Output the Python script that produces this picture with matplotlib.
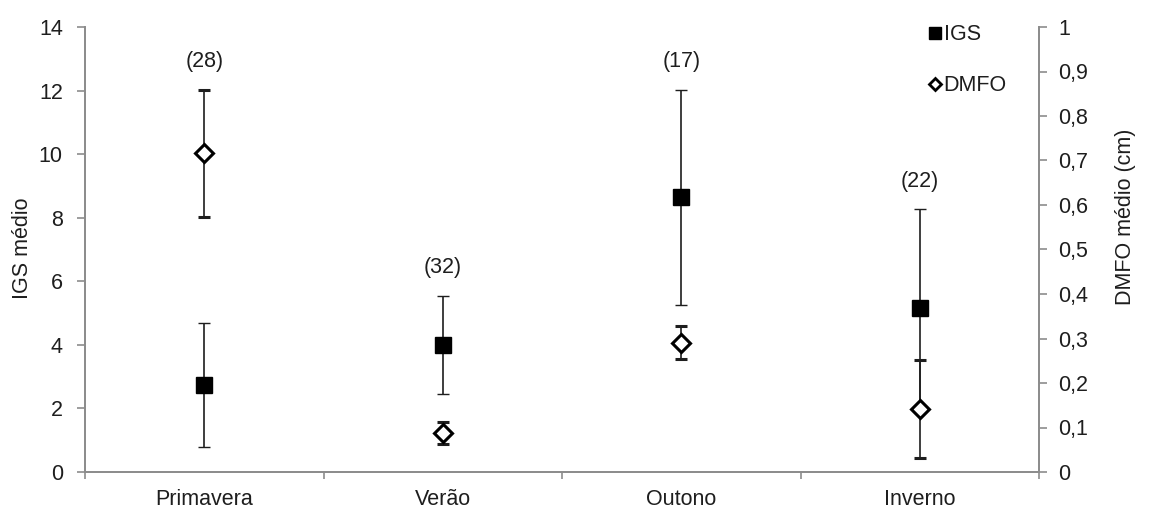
import matplotlib
matplotlib.use("Agg")
import matplotlib.pyplot as plt
from matplotlib.lines import Line2D
from matplotlib.ticker import FuncFormatter, MultipleLocator
import numpy as np

plt.rcParams["font.family"] = ["Liberation Sans", "DejaVu Sans"]

# dados
estacoes = ["Primavera", "Verão", "Outono", "Inverno"]
igs_media = [2.75, 4.0, 8.64, 5.15]
igs_erro = [1.95, 1.55, 3.39, 3.13]
dmfo_media = [0.716, 0.088, 0.291, 0.142]
dmfo_erro = [0.143, 0.025, 0.036, 0.110]
n_amostras = [28, 32, 17, 22]

SPINE = "#8c8c8c"
TXT = "#1e1e1e"
FS = 15.5

fig = plt.figure(figsize=(11.52, 5.09), dpi=100)
ax = fig.add_axes([85 / 1152, 37 / 509, 954 / 1152, 445 / 509])
ax2 = ax.twinx()

x = np.arange(len(estacoes)) + 0.5

ax.errorbar(x, igs_media, yerr=igs_erro, fmt="s", color="black",
            markersize=11.5, ecolor="#1e1e1e", elinewidth=1.2,
            capsize=4, capthick=1.0, zorder=3)
ax2.errorbar(x, dmfo_media, yerr=dmfo_erro, fmt="D", color="black",
             markerfacecolor="white", markeredgecolor="black",
             markeredgewidth=2.2, markersize=9.5,
             ecolor="#1e1e1e", elinewidth=1.2, capsize=4, capthick=1.0,
             zorder=3)

ax.set_xlim(0, 4)
ax.set_ylim(0, 14)
ax2.set_ylim(0, 1)
ax.yaxis.set_major_locator(MultipleLocator(2))
ax2.yaxis.set_major_locator(MultipleLocator(0.1))
ax2.yaxis.set_major_formatter(
    FuncFormatter(lambda v, p: "{:g}".format(round(v, 1)).replace(".", ",")))

# categorias: ticks nas divisões, rótulos no centro
ax.set_xticks([0, 1, 2, 3, 4])
ax.set_xticklabels([])
ax.set_xticks(x, minor=True)
ax.set_xticklabels(estacoes, minor=True)
ax.tick_params(axis="x", which="minor", length=0, pad=12,
               labelsize=FS, labelcolor=TXT)
ax.tick_params(axis="x", which="major", length=5, width=1.2, color=SPINE)
ax.tick_params(axis="y", length=6, width=1.2, color=SPINE, pad=10,
               labelsize=FS, labelcolor=TXT)
ax2.tick_params(axis="y", length=6, width=1.2, color=SPINE, pad=8,
                labelsize=FS, labelcolor=TXT)

for a in (ax, ax2):
    a.spines["top"].set_visible(False)
    for s in ("left", "right", "bottom"):
        a.spines[s].set_color(SPINE)
        a.spines[s].set_linewidth(1.3)

fig.text(23 / 1152, 1 - 248 / 509, "IGS médio", rotation=90,
         ha="center", va="center", fontsize=FS, color=TXT)
fig.text(1126 / 1152, 1 - 217 / 509, "DMFO médio (cm)", rotation=90,
         ha="center", va="center", fontsize=FS, color=TXT)

# número de exemplares acima de cada estação
for xi, n, im, ie, dm, de in zip(x, n_amostras, igs_media, igs_erro,
                                 dmfo_media, dmfo_erro):
    topo = max((im + ie) / 14, dm + de)
    ax.annotate(f"({n})", xy=(xi, topo), xycoords=ax.get_xaxis_transform(),
                xytext=(0, 20), textcoords="offset points",
                ha="center", va="center", fontsize=FS, color=TXT)

handles = [
    Line2D([], [], marker="s", linestyle="none", color="black", markersize=8),
    Line2D([], [], marker="D", linestyle="none", markerfacecolor="white",
           markeredgecolor="black", markeredgewidth=2, markersize=6),
]
ax2.legend(handles, ["IGS", "DMFO"], loc="upper left",
           bbox_to_anchor=(0.864, 1.05), frameon=False, fontsize=FS,
           handlelength=0.6, handletextpad=0.1, labelspacing=1.4,
           labelcolor=TXT)

fig.savefig("out.png", dpi=100)
